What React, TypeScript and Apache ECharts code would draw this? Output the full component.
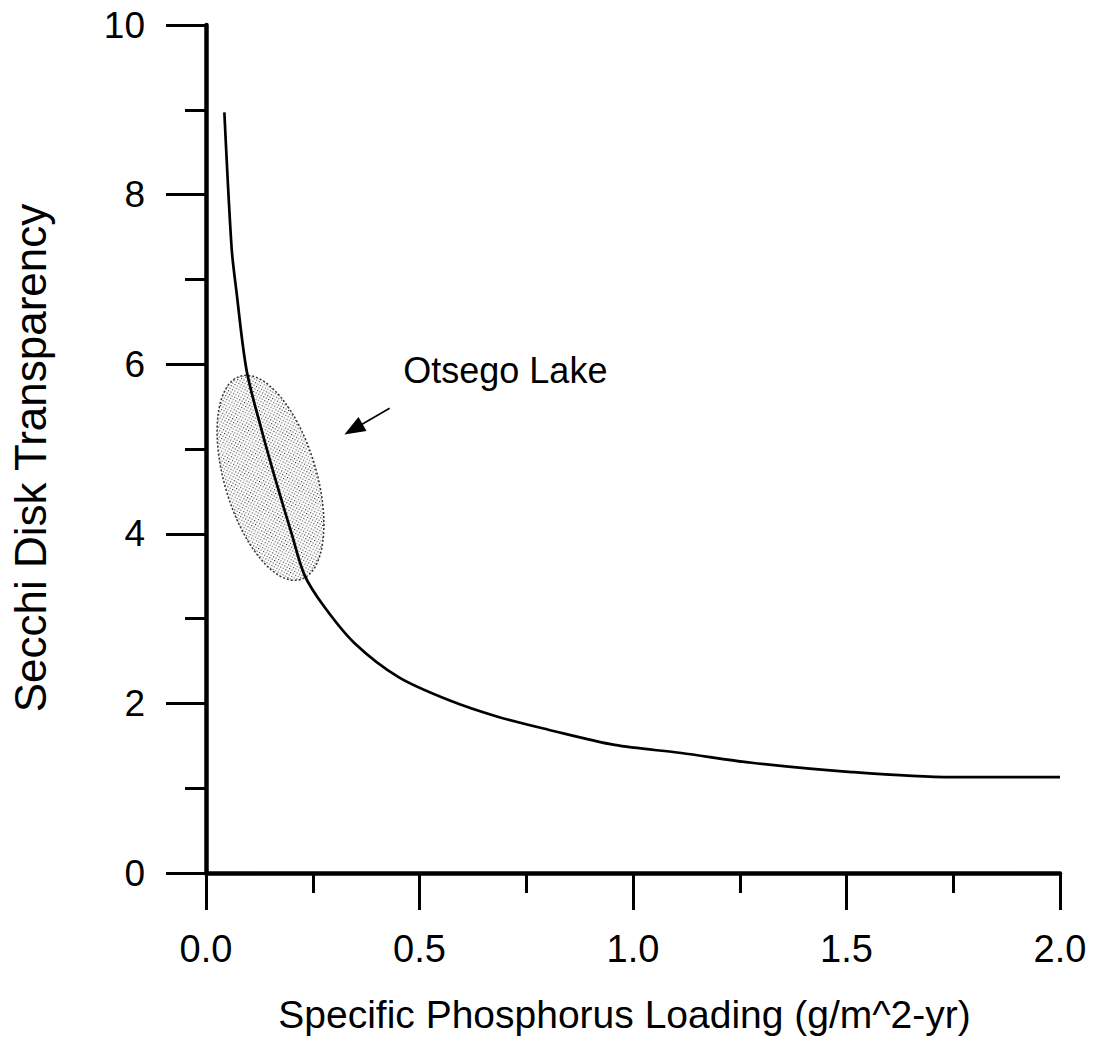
import React, { useEffect, useRef } from "react";
import * as echarts from "echarts";

// Curve
const loading = [0.043, 0.06, 0.071, 0.095, 0.132, 0.165, 0.2, 0.231, 0.277, 0.348, 0.451, 0.568, 0.685, 0.802, 0.957, 1.113, 1.278, 1.512, 1.746, 2.0];
const secchi = [8.97, 7.37, 6.87, 5.93, 5.19, 4.6, 4.01, 3.51, 3.14, 2.71, 2.31, 2.04, 1.84, 1.69, 1.51, 1.415, 1.3, 1.19, 1.13, 1.13];

// Annotation anchors in data units
const lakeName = "Otsego Lake";
const lakeCenter = [0.151, 4.66];
const labelAnchor = [0.462, 5.93];
const arrowTail = [0.43, 5.48];
const arrowTip = [0.324, 5.17];

const xTitle = "Specific Phosphorus Loading (g/m^2-yr)";
const yTitle = "Secchi Disk Transparency";

const FONT = "'Liberation Sans', Arial, Helvetica, sans-serif";

function makeStipple(): any {
  const c = document.createElement("canvas");
  c.width = 4;
  c.height = 4;
  const ctx = c.getContext("2d");
  if (!ctx) return "#cfcfcf";
  ctx.fillStyle = "#ffffff";
  ctx.fillRect(0, 0, 4, 4);
  ctx.fillStyle = "#222222";
  ctx.fillRect(0, 0, 1, 1);
  ctx.fillRect(2, 2, 1, 1);
  return { image: c, repeat: "repeat" };
}

export default function App() {
  const ref = useRef<HTMLDivElement>(null);
  useEffect(() => {
    if (!ref.current) return;
    const chart = echarts.init(ref.current, undefined, { renderer: "svg" });
    const data = loading.map((x, i) => [x, secchi[i]]);
    chart.setOption({
      animation: false,
      backgroundColor: "#ffffff",
      grid: { left: 204.5, right: 37, top: 25, bottom: 171, containLabel: false },
      xAxis: {
        type: "value",
        min: 0,
        max: 2,
        interval: 0.5,
        name: xTitle,
        nameLocation: "middle",
        nameGap: 122,
        nameTextStyle: { fontFamily: FONT, fontSize: 39, color: "#000", padding: [0, 17, 0, 0] },
        axisLine: { show: true, onZero: false, lineStyle: { color: "#000", width: 4.5 } },
        axisTick: { show: true, inside: false, length: 37, lineStyle: { color: "#000", width: 3 } },
        minorTick: { show: true, splitNumber: 2, length: 20, lineStyle: { color: "#000", width: 3 } },
        splitLine: { show: false },
        axisLabel: {
          margin: 57,
          fontFamily: FONT,
          fontSize: 38,
          color: "#000",
          formatter: (v: number) => v.toFixed(1),
        },
      },
      yAxis: {
        type: "value",
        min: 0,
        max: 10,
        interval: 2,
        name: yTitle,
        nameLocation: "middle",
        nameGap: 154,
        nameTextStyle: { fontFamily: FONT, fontSize: 44, color: "#000", padding: [0, 18, 0, 0] },
        axisLine: { show: true, onZero: false, lineStyle: { color: "#000", width: 4.5 } },
        axisTick: { show: true, inside: false, length: 40, lineStyle: { color: "#000", width: 3 } },
        minorTick: { show: true, splitNumber: 2, length: 21, lineStyle: { color: "#000", width: 3 } },
        splitLine: { show: false },
        axisLabel: { margin: 61, fontFamily: FONT, fontSize: 37, color: "#000" },
      },
      series: [
        {
          type: "line",
          data,
          smooth: 0.3,
          showSymbol: false,
          symbol: "none",
          lineStyle: { color: "#000", width: 2.7 },
          z: 5,
        },
      ],
    });

    const toPx = (p: number[]) => chart.convertToPixel({ gridIndex: 0 }, p) as number[];
    const c = toPx(lakeCenter);
    const lab = toPx(labelAnchor);
    const t0 = toPx(arrowTail);
    const t1 = toPx(arrowTip);
    const dx = t1[0] - t0[0];
    const dy = t1[1] - t0[1];
    const len = Math.sqrt(dx * dx + dy * dy);
    const ux = dx / len;
    const uy = dy / len;
    const headLen = 21;
    const headHalf = 8;
    const bx = t1[0] - ux * headLen;
    const by = t1[1] - uy * headLen;
    const px = -uy;
    const py = ux;

    chart.setOption({
      graphic: [
        {
          type: "ellipse",
          x: c[0],
          y: c[1],
          rotation: (16.5 * Math.PI) / 180,
          shape: { cx: 0, cy: 0, rx: 46, ry: 106 },
          style: { fill: makeStipple(), stroke: "#333", lineWidth: 1.5, lineDash: [2, 2] },
          z: 1,
        },
        {
          type: "line",
          shape: { x1: t0[0], y1: t0[1], x2: bx + ux * 2, y2: by + uy * 2 },
          style: { stroke: "#000", lineWidth: 1.6 },
          z: 10,
        },
        {
          type: "polygon",
          shape: {
            points: [
              [t1[0], t1[1]],
              [bx + px * headHalf, by + py * headHalf],
              [bx - px * headHalf, by - py * headHalf],
            ],
          },
          style: { fill: "#000" },
          z: 10,
        },
        {
          type: "text",
          x: lab[0],
          y: lab[1],
          style: {
            text: lakeName,
            fontFamily: FONT,
            fontSize: 36,
            fill: "#000",
            align: "left",
            verticalAlign: "middle",
          },
          z: 10,
        },
      ],
    });

    return () => chart.dispose();
  }, []);
  return (
    <div
      ref={ref}
      style={{ position: "fixed", left: 0, top: 0, width: 1097, height: 1044, background: "#fff" }}
    />
  );
}
